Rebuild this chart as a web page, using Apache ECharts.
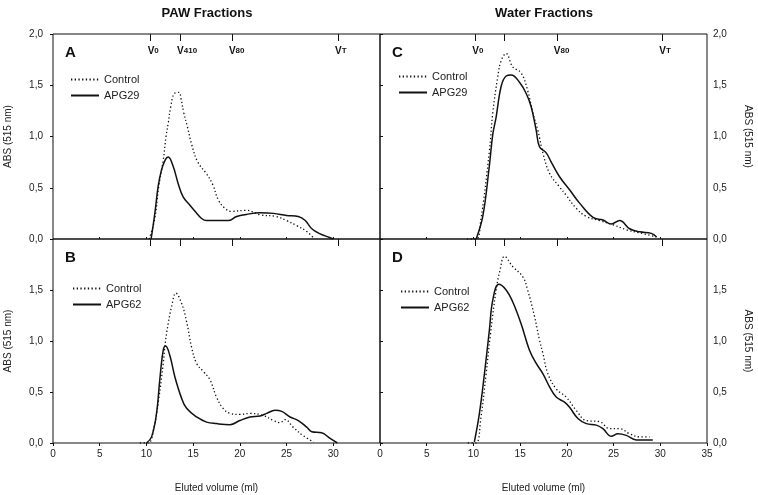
<!DOCTYPE html>
<html>
<head>
<meta charset="utf-8">
<script src="https://cdn.jsdelivr.net/npm/echarts@6/dist/echarts.min.js"></script>
<style>
  html, body { margin: 0; padding: 0; background: #fff; }
  #chart { width: 758px; height: 495px; }
</style>
</head>
<body>
<div id="chart"></div>
<script>
// eluted volume (ml) / absorbance pairs
const aCtrlX = [10.3, 10.9, 11.3, 11.8, 12.1, 12.35, 12.6, 13.0, 13.5, 13.7, 14.0, 14.4, 14.85, 15.5, 16.4, 17.1, 17.7, 18.4, 19.1, 20.7, 22.2, 23.9, 25.0, 26.1, 27.2, 28.0];
const aCtrlY = [0, 0.2, 0.5, 0.77, 1.0, 1.14, 1.29, 1.42, 1.43, 1.37, 1.23, 1.09, 0.92, 0.75, 0.64, 0.53, 0.38, 0.30, 0.27, 0.28, 0.235, 0.22, 0.18, 0.13, 0.07, 0.0];
const aApgX = [10.5, 10.9, 11.25, 11.6, 12.0, 12.33, 12.86, 13.4, 13.93, 14.65, 15.2, 15.9, 16.45, 18.75, 19.65, 20.7, 22.15, 23.6, 25.0, 26.25, 27.0, 27.7, 28.6, 29.6, 30.0];
const aApgY = [0, 0.25, 0.51, 0.67, 0.77, 0.80, 0.71, 0.54, 0.41, 0.33, 0.27, 0.20, 0.18, 0.18, 0.22, 0.24, 0.255, 0.25, 0.23, 0.22, 0.18, 0.10, 0.05, 0.015, 0];

const bCtrlX = [9.3, 10.2, 10.8, 11.3, 11.8, 12.0, 12.33, 12.7, 13.15, 13.76, 14.3, 14.83, 15.37, 16.1, 16.8, 17.5, 18.2, 18.95, 20.0, 21.1, 22.5, 23.6, 24.3, 24.85, 25.7, 26.8, 27.9];
const bCtrlY = [0, 0, 0.15, 0.42, 0.78, 0.97, 1.17, 1.34, 1.47, 1.37, 1.19, 0.94, 0.78, 0.70, 0.62, 0.45, 0.34, 0.29, 0.28, 0.29, 0.27, 0.22, 0.20, 0.23, 0.155, 0.07, 0.01];
const bApgX = [10.0, 10.55, 11.08, 11.43, 11.8, 12.05, 12.5, 13.04, 13.76, 14.3, 15.37, 16.44, 17.5, 18.94, 20.0, 21.08, 22.15, 22.87, 23.76, 24.48, 25.37, 26.26, 27.16, 27.7, 28.76, 29.66, 30.44];
const bApgY = [0.0, 0.06, 0.29, 0.62, 0.91, 0.95, 0.86, 0.65, 0.44, 0.34, 0.255, 0.205, 0.19, 0.18, 0.22, 0.255, 0.265, 0.29, 0.32, 0.31, 0.255, 0.22, 0.155, 0.11, 0.10, 0.045, 0.0];

const cCtrlX = [9.3, 10.3, 10.8, 11.7, 12.07, 12.6, 12.97, 13.5, 14.2, 15.1, 15.8, 16.36, 16.9, 17.43, 18.15, 19.2, 19.9, 21.0, 22.08, 23.5, 24.9, 26.4, 27.8, 29.6];
const cCtrlY = [0, 0, 0.19, 0.85, 1.23, 1.58, 1.74, 1.81, 1.68, 1.62, 1.45, 1.23, 1.06, 0.84, 0.64, 0.51, 0.43, 0.30, 0.22, 0.18, 0.14, 0.09, 0.06, 0.02];
const cApgX = [10.29, 11.0, 11.7, 12.07, 12.43, 12.97, 13.5, 14.04, 14.93, 15.65, 16.18, 16.72, 17.07, 17.79, 18.33, 19.2, 20.29, 21.36, 22.8, 23.86, 24.76, 25.65, 26.72, 27.8, 29.04, 29.6];
const cApgY = [0, 0.22, 0.71, 1.02, 1.19, 1.49, 1.59, 1.60, 1.53, 1.42, 1.29, 1.06, 0.90, 0.84, 0.75, 0.61, 0.48, 0.35, 0.21, 0.185, 0.146, 0.18, 0.10, 0.07, 0.055, 0.02];

const dCtrlX = [9.4, 10.27, 10.8, 11.36, 11.8, 12.43, 12.86, 13.32, 14.2, 15.28, 15.8, 16.54, 17.07, 17.43, 17.97, 18.86, 19.93, 21.0, 22.08, 23.5, 24.58, 25.65, 26.72, 27.8, 28.86];
const dCtrlY = [0, 0, 0.25, 0.68, 1.05, 1.50, 1.70, 1.83, 1.73, 1.63, 1.50, 1.24, 1.01, 0.88, 0.68, 0.53, 0.45, 0.32, 0.22, 0.21, 0.14, 0.14, 0.09, 0.06, 0.06];
const dApgX = [10.1, 10.64, 11.18, 11.71, 12.07, 12.71, 13.5, 14.2, 15.1, 16.0, 16.72, 17.43, 18.15, 18.86, 19.75, 20.29, 21.18, 22.08, 23.15, 23.86, 24.76, 25.47, 26.36, 27.43, 29.2];
const dApgY = [0.01, 0.29, 0.68, 1.11, 1.40, 1.556, 1.50, 1.385, 1.17, 0.91, 0.78, 0.68, 0.55, 0.45, 0.40, 0.35, 0.24, 0.19, 0.175, 0.14, 0.065, 0.09, 0.075, 0.03, 0.03];

// void volume markers
const pawMarks = [10.45, 13.6, 19.15, 30.5];
const pawMarkNames = ['0', '410', '80', 'T'];
const waterMarks = [10.2, 13.35, 18.92, 30.22];
const waterMarkNames = ['0', '', '80', 'T'];

const xTicks = [0, 5, 10, 15, 20, 25, 30, 35];
const yTicks = [0, 0.5, 1.0, 1.5, 2.0];

const font = 'Liberation Sans';
const ink = '#111';
const zip = (xs, ys) => xs.map((x, i) => [x, ys[i]]);
const comma = v => v.toFixed(1).replace('.', ',');

const grids = [
  { left: 53, top: 34, width: 327, height: 205 },
  { left: 53, top: 239, width: 327, height: 204 },
  { left: 380, top: 34, width: 327, height: 205 },
  { left: 380, top: 239, width: 327, height: 204 }
].map(g => ({ ...g, show: true, borderColor: ink, borderWidth: 1, backgroundColor: 'transparent' }));

const panels = [
  { letter: 'A', ctrl: [aCtrlX, aCtrlY], apg: [aApgX, aApgY], name: 'APG29', marks: pawMarks, names: pawMarkNames, top: true, side: 'left', legend: [70, 74] },
  { letter: 'B', ctrl: [bCtrlX, bCtrlY], apg: [bApgX, bApgY], name: 'APG62', marks: pawMarks, names: null, top: false, side: 'left', legend: [72, 283] },
  { letter: 'C', ctrl: [cCtrlX, cCtrlY], apg: [cApgX, cApgY], name: 'APG29', marks: waterMarks, names: waterMarkNames, top: true, side: 'right', legend: [398, 71] },
  { letter: 'D', ctrl: [dCtrlX, dCtrlY], apg: [dApgX, dApgY], name: 'APG62', marks: waterMarks, names: null, top: false, side: 'right', legend: [400, 286] }
];

const xAxis = [];
const yAxis = [];
const series = [];
const legend = [];
const title = [
  { text: 'PAW Fractions', left: 202, top: 2, textAlign: 'center', textStyle: { fontFamily: font, fontSize: 13, fontWeight: 'bold', color: ink } },
  { text: 'Water Fractions', left: 539, top: 2, textAlign: 'center', textStyle: { fontFamily: font, fontSize: 13, fontWeight: 'bold', color: ink } }
];

panels.forEach((p, i) => {
  const isLeft = p.side === 'left';
  const g = grids[i];
  const bottomTicks = p.top ? [5, 10, 15, 20, 25, 30] : (isLeft ? xTicks.slice(0, 7) : xTicks);

  // bottom x axis
  xAxis.push({
    type: 'value', gridIndex: i, min: 0, max: 35, position: 'bottom',
    axisLine: { show: false },
    splitLine: { show: false },
    axisTick: { show: true, inside: p.top, length: p.top ? 2 : 3, customValues: bottomTicks, lineStyle: { color: ink } },
    axisLabel: {
      show: !p.top, customValues: bottomTicks, margin: 6,
      fontFamily: font, fontSize: 10, color: '#222'
    },
    name: p.top ? '' : 'Eluted volume (ml)',
    nameLocation: 'middle', nameGap: 40,
    nameTextStyle: { fontFamily: font, fontSize: 10, color: '#222' }
  });

  // top x axis with the marker ticks
  xAxis.push({
    type: 'value', gridIndex: i, min: 0, max: 35, position: 'top',
    axisLine: { show: false },
    splitLine: { show: false },
    axisTick: { show: true, inside: true, length: 7, customValues: p.marks, lineStyle: { color: ink } },
    axisLabel: {
      show: !!p.names, inside: true, margin: 12, align: 'left',
      customValues: p.marks,
      formatter: v => {
        const n = p.names ? p.names[p.marks.indexOf(v)] : '';
        return n ? '{v|V}{s|' + n + '}' : '';
      },
      rich: {
        v: { fontFamily: font, fontSize: 10, fontWeight: 'bold', color: ink, padding: [0, 0, 0, -3] },
        s: { fontFamily: font, fontSize: 8, fontWeight: 'bold', color: ink }
      }
    }
  });

  const yLabels = p.top ? yTicks : yTicks.slice(0, 4);
  yAxis.push({
    type: 'value', gridIndex: i, min: 0, max: 2, interval: 0.5, position: p.side,
    axisLine: { show: false },
    splitLine: { show: false },
    axisTick: { show: true, length: 3, customValues: yTicks, lineStyle: { color: ink } },
    axisLabel: {
      customValues: yLabels, formatter: comma, margin: isLeft ? 10 : 6,
      fontFamily: font, fontSize: 10, color: '#222'
    },
    name: 'ABS (515 nm)', nameLocation: 'middle',
    nameGap: isLeft ? 40 : 36, nameRotate: isLeft ? 90 : -90,
    nameTextStyle: { fontFamily: font, fontSize: 10, color: '#222' }
  });

  const xIdx = i * 2;
  series.push({
    name: 'Control', type: 'line', xAxisIndex: xIdx, yAxisIndex: i,
    data: zip(p.ctrl[0], p.ctrl[1]), showSymbol: false, symbol: 'none',
    smooth: 0.4, color: ink,
    lineStyle: { color: ink, width: 1.3, type: [1.3, 2.4] }
  });
  series.push({
    name: p.name, type: 'line', xAxisIndex: xIdx, yAxisIndex: i,
    data: zip(p.apg[0], p.apg[1]), showSymbol: false, symbol: 'none',
    smooth: 0.4, color: ink,
    lineStyle: { color: ink, width: 1.5 }
  });

  legend.push({
    data: ['Control', p.name], orient: 'vertical',
    left: p.legend[0], top: p.legend[1], padding: 0,
    itemWidth: 28, itemHeight: 10, itemGap: 5, selectedMode: false,
    itemStyle: { opacity: 0 },
    textStyle: { fontFamily: font, fontSize: 11, color: '#222' }
  });

  title.push({
    text: p.letter, left: g.left + 7, top: g.top + 6,
    textStyle: { fontFamily: font, fontSize: 15, fontWeight: 'bold', color: ink }
  });
});

const chart = echarts.init(document.getElementById('chart'));
chart.setOption({
  animation: false,
  backgroundColor: '#fff',
  title,
  legend,
  grid: grids,
  xAxis,
  yAxis,
  series
});
</script>
</body>
</html>
